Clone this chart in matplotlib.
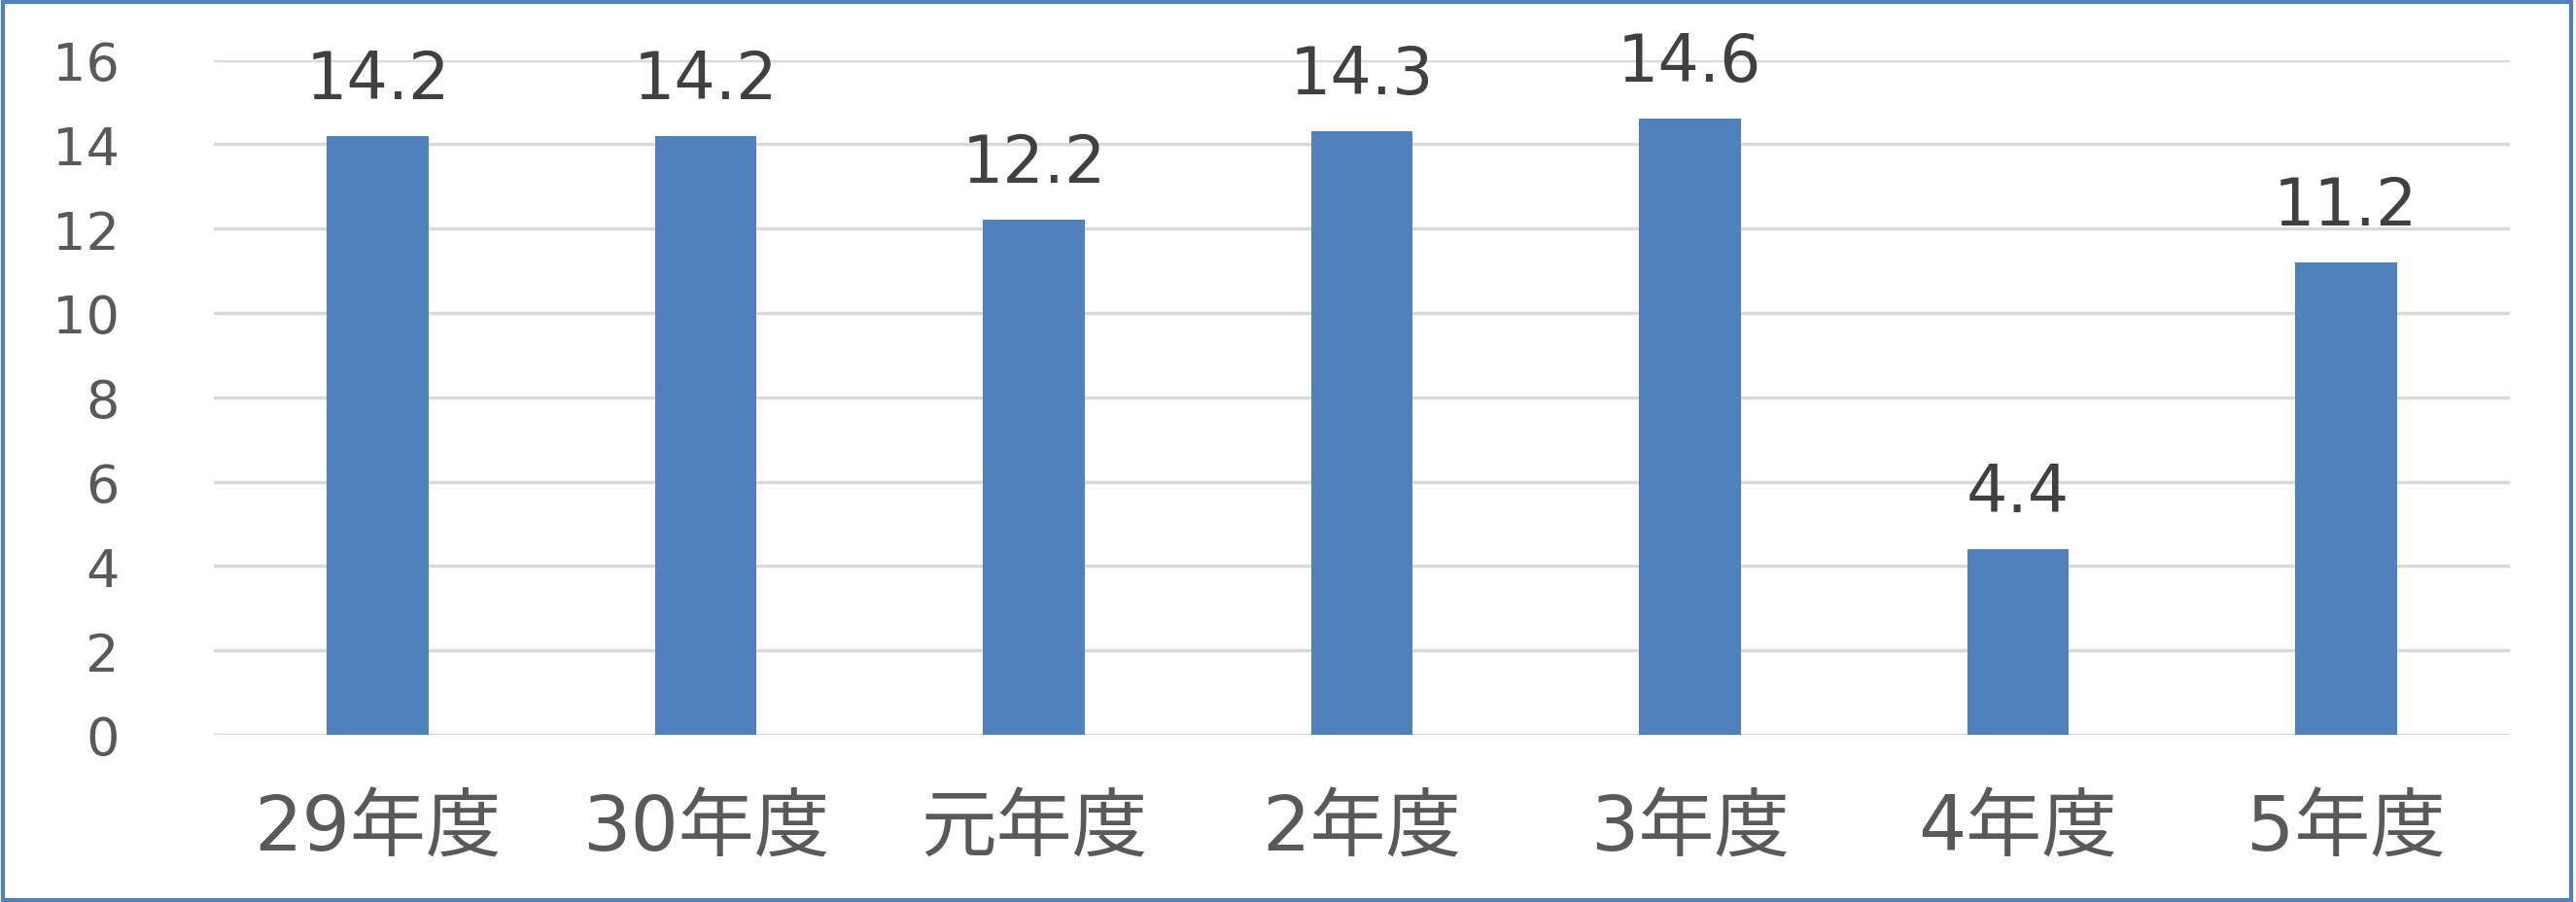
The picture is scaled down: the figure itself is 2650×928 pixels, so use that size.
import matplotlib
matplotlib.use("Agg")
import matplotlib.pyplot as plt
from matplotlib.patches import Rectangle

categories = ["29年度", "30年度", "元年度", "2年度", "3年度", "4年度", "5年度"]
values = [14.2, 14.2, 12.2, 14.3, 14.6, 4.4, 11.2]
yticks = [0, 2, 4, 6, 8, 10, 12, 14, 16]

plt.rcParams['font.family'] = ['DejaVu Sans', 'Noto Sans CJK JP']

W, H = 2650, 929
fig = plt.figure(figsize=(W / 100, H / 100), dpi=100)
ax = fig.add_axes([220 / W, 1 - 757 / H, (2582 - 220) / W, (757 - 62.5) / H])

x = list(range(len(categories)))
bars = ax.bar(x, values, width=0.31, color="#4F81BD", zorder=3)
ax.set_xlim(-0.5, len(categories) - 0.5)
ax.set_ylim(0, 16)
ax.set_yticks(yticks)
ax.set_yticklabels([str(t) for t in yticks], fontsize=39, color="#595959")
ax.set_xticks(x)
ax.set_xticklabels(categories, fontsize=56, color="#595959")
ax.tick_params(axis="both", length=0)
ax.tick_params(axis="y", pad=70)
ax.tick_params(axis="x", pad=42)
ax.grid(axis="y", color="#D9D9D9", linewidth=2.5, zorder=0)
for s in ax.spines.values():
    s.set_visible(False)

for xi, v in zip(x, values):
    ax.annotate(f"{v}", (xi, v), xytext=(0, 18), textcoords="offset points",
                ha="center", va="bottom", fontsize=48, color="#404040")

fig.add_artist(Rectangle((0.001, 0.002), 0.997, 0.995, transform=fig.transFigure,
                         fill=False, edgecolor="#4F81BD", linewidth=3))
fig.savefig("out.png", dpi=100)
